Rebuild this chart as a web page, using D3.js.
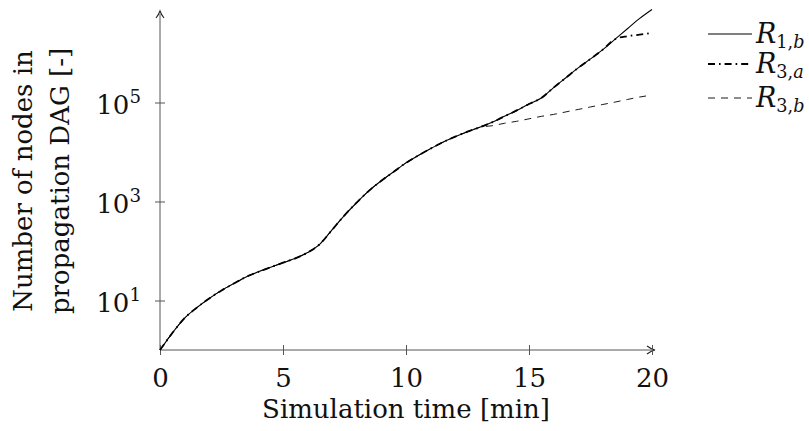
<!DOCTYPE html>
<html>
<head>
<meta charset="utf-8">
<script src="https://cdn.jsdelivr.net/npm/d3@7"></script>
<style>
  html, body { margin: 0; padding: 0; background: #fff; }
  svg { display: block; }
  text { font-family: "DejaVu Serif", "Liberation Serif", serif; fill: #111; }
</style>
</head>
<body>
<svg id="chart" width="809" height="431"></svg>
<script>
// ---- data ----
const times = [0, 0.5, 1, 1.5, 2, 2.5, 3, 3.5, 4, 4.5, 5, 5.5, 6, 6.5, 7, 7.5, 8, 8.5, 9, 9.5,
               10, 10.5, 11, 11.5, 12, 12.5, 13, 13.5, 14, 14.5, 15, 15.5, 16, 16.5, 17, 17.5,
               18, 18.5, 19, 19.5, 20];
const r1b = [1, 2.2, 4.4, 7.2, 11, 16, 22, 30, 38, 47, 58, 71, 93, 138, 269, 525, 955, 1660, 2630, 3980,
             6030, 8510, 11700, 15800, 20400, 25700, 31600, 39800, 52500, 69200, 93300, 123000, 200000, 316000, 501000, 759000,
             1170000, 1900000, 3090000, 5010000, 7590000];
const r3a = [1, 2.2, 4.4, 7.2, 11, 16, 22, 30, 38, 47, 58, 71, 93, 138, 269, 525, 955, 1660, 2630, 3980,
             6030, 8510, 11700, 15800, 20400, 25700, 31600, 39800, 52500, 69200, 93300, 123000, 200000, 316000, 501000, 759000,
             1170000, 1900000, 2190000, 2340000, 2570000];
const r3b = [1, 2.2, 4.4, 7.2, 11, 16, 22, 30, 38, 47, 58, 71, 93, 138, 269, 525, 955, 1660, 2630, 3980,
             6030, 8510, 11700, 15800, 20400, 25700, 31600, 33900, 38000, 41700, 46800, 52500, 57500, 64600, 72400, 81300,
             91200, 102000, 115000, 129000, 141000];
const xTicks = [0, 5, 10, 15, 20];
const yTickExps = [1, 3, 5];
const seriesNames = [["R", "1,", "b"], ["R", "3,", "a"], ["R", "3,", "b"]];
const xLabel = "Simulation time [min]";
const yLabelLines = ["Number of nodes in", "propagation DAG [-]"];

// ---- layout ----
const svg = d3.select("#chart");
const X0 = 160, X1 = 652, Y0 = 350;
const decade = 49.5;
const x = d3.scaleLinear().domain([0, 20]).range([X0, X1]);
const y = d3.scaleLog().domain([1, 1e7]).range([Y0, Y0 - 7 * decade]);
const axisColor = "#555";
const fs = 26;

// axes lines
const g = svg.append("g");
g.append("line").attr("x1", X0).attr("x2", X1 + 2).attr("y1", Y0).attr("y2", Y0)
  .attr("stroke", axisColor).attr("stroke-width", 1);
g.append("line").attr("x1", X0).attr("x2", X0).attr("y1", Y0).attr("y2", 14)
  .attr("stroke", axisColor).attr("stroke-width", 1);
// arrowheads
g.append("path").attr("d", `M${X1 - 5},${Y0 - 4} Q${X1 - 1},${Y0 - 1} ${X1 + 3},${Y0} Q${X1 - 1},${Y0 + 1} ${X1 - 5},${Y0 + 4}`)
  .attr("fill", "none").attr("stroke", "#222").attr("stroke-width", 1.1);
g.append("path").attr("d", `M${X0 - 4},18 Q${X0 - 1},14 ${X0},11 Q${X0 + 1},14 ${X0 + 4},18`)
  .attr("fill", "none").attr("stroke", "#222").attr("stroke-width", 1.1);

// x axis ticks via d3 axis
const xAxis = d3.axisBottom(x).tickValues(xTicks).tickSize(5).tickFormat(d3.format("d"));
const xg = svg.append("g").attr("transform", `translate(0,${Y0})`).call(xAxis);
xg.select(".domain").remove();
xg.selectAll(".tick line").attr("y1", -5).attr("y2", 5).attr("stroke", axisColor);
xg.selectAll(".tick text").attr("y", 0).attr("dy", 37).attr("font-size", fs)
  .attr("font-family", "DejaVu Serif").attr("fill", "#111");

// y axis ticks via d3 axis
const yAxis = d3.axisLeft(y).tickValues(yTickExps.map(e => Math.pow(10, e))).tickSize(5).tickFormat("");
const yg = svg.append("g").attr("transform", `translate(${X0},0)`).call(yAxis);
yg.select(".domain").remove();
yg.selectAll(".tick line").attr("x1", -5).attr("x2", 5).attr("stroke", axisColor);
yg.selectAll(".tick").each(function(d, i) {
  const t = d3.select(this).append("text")
    .attr("x", -19).attr("y", 11).attr("text-anchor", "end")
    .attr("font-size", fs).attr("fill", "#111");
  t.append("tspan").text("10");
  t.append("tspan").attr("dy", -11).attr("font-size", fs * 0.7).text(String(yTickExps[i]));
});

// axis labels
svg.append("text").attr("x", x(10)).attr("y", 418).attr("text-anchor", "middle")
  .attr("font-size", fs).text(xLabel);
const ylab = svg.append("g").attr("transform", `translate(0,${(Y0 + 12) / 2}) rotate(-90)`);
yLabelLines.forEach((s, i) => {
  ylab.append("text").attr("x", 0).attr("y", 32 + i * 37).attr("text-anchor", "middle")
    .attr("font-size", fs).text(s);
});

// lines
const line = (vals) => d3.line()
  .x((d, i) => x(times[i]))
  .y(d => y(d))
  .curve(d3.curveMonotoneX)(vals);

const styles = [
  { vals: r1b, width: 1.1, dash: null },
  { vals: r3a, width: 1.8, dash: "7,4,1.6,4" },
  { vals: r3b, width: 0.9, dash: "7,6" }
];
styles.forEach(s => {
  svg.append("path").attr("d", line(s.vals)).attr("fill", "none")
    .attr("stroke", "#000").attr("stroke-width", s.width)
    .attr("stroke-dasharray", s.dash);
});

// legend
const legY = [34, 64, 98];
styles.forEach((s, i) => {
  svg.append("line").attr("x1", 708).attr("x2", 752).attr("y1", legY[i]).attr("y2", legY[i])
    .attr("stroke", "#000").attr("stroke-width", s.width).attr("stroke-dasharray", s.dash);
  const t = svg.append("text").attr("x", 756).attr("y", legY[i] + 9).attr("font-size", fs + 1);
  t.append("tspan").attr("font-style", "italic").text(seriesNames[i][0]);
  t.append("tspan").attr("dy", 5).attr("font-size", fs * 0.68).text(seriesNames[i][1]);
  t.append("tspan").attr("font-size", fs * 0.68).attr("font-style", "italic").text(seriesNames[i][2]);
});
</script>
</body>
</html>
